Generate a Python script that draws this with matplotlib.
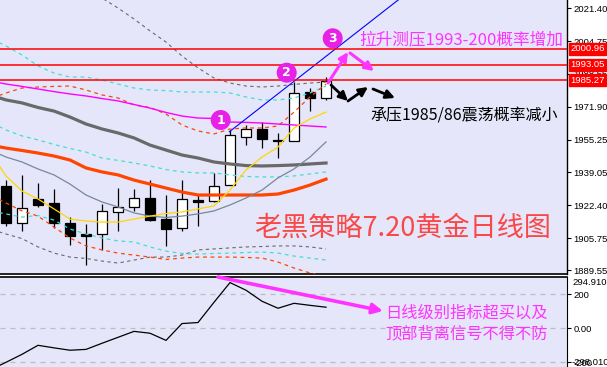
import numpy as np
import matplotlib
matplotlib.use("Agg")
import matplotlib.pyplot as plt
from matplotlib.patches import Rectangle, Circle, FancyArrowPatch
from matplotlib.transforms import IdentityTransform, blended_transform_factory

plt.rcParams['font.family'] = ['Noto Sans CJK SC', 'DejaVu Sans']

# ---------------- data ----------------
opens  = [1932.0, 1913.6, 1925.5, 1923.4, 1913.3, 1907.7, 1908.1, 1919.1, 1921.3, 1926.0,
          1915.4, 1910.7, 1924.9, 1924.6, 1932.5, 1956.8, 1960.5, 1954.9, 1954.7, 1979.3, 1976.5]
highs  = [1935.0, 1937.6, 1933.7, 1930.4, 1916.6, 1912.8, 1923.0, 1931.0, 1930.5, 1935.0,
          1927.5, 1935.0, 1927.5, 1938.4, 1960.2, 1962.7, 1964.4, 1958.5, 1984.5, 1981.5, 1987.0]
lows   = [1911.9, 1909.6, 1921.3, 1910.7, 1902.4, 1892.3, 1900.1, 1909.6, 1919.6, 1914.6,
          1902.0, 1909.4, 1911.9, 1924.1, 1932.3, 1952.6, 1950.9, 1946.0, 1954.7, 1969.7, 1975.3]
closes = [1913.6, 1920.8, 1922.7, 1913.2, 1907.0, 1907.0, 1919.5, 1921.3, 1925.8, 1914.9,
          1910.3, 1925.3, 1924.2, 1932.0, 1957.7, 1960.5, 1955.5, 1955.1, 1978.6, 1976.4, 1984.6]

# indicator values at bars -1 .. 20
ind_x = np.arange(-1, 21)
boll_up_slow = [2057.2, 2053.2, 2049.2, 2044.6, 2040.6, 2035.6, 2031.1, 2026.5, 2021.5, 2016.0, 2010.0,
                2004.4, 1997.4, 1991.4, 1986.3, 1983.8, 1982.3, 1981.8, 1982.3, 1983.1, 1983.8, 1984.3]
boll_dn_slow = [1910.4, 1907.9, 1905.6, 1901.4, 1898.3, 1896.3, 1895.6, 1894.3, 1893.3, 1894.8, 1896.3,
                1896.3, 1897.3, 1899.9, 1900.4, 1900.9, 1901.4, 1901.6, 1901.9, 1901.9, 1901.4, 1900.4]
cyan_up  = [2006.4, 2002.4, 1997.9, 1992.4, 1988.8, 1986.8, 1986.8, 1985.3, 1983.3, 1981.3, 1980.3,
            1980.0, 1979.3, 1979.3, 1979.3, 1978.8, 1976.8, 1975.3, 1975.3, 1976.3, 1978.8, 1982.3]
cyan_mid = [1964.2, 1960.2, 1957.2, 1955.2, 1952.9, 1950.9, 1949.1, 1946.1, 1944.9, 1943.6, 1942.1,
            1940.3, 1939.1, 1938.6, 1938.6, 1937.6, 1936.8, 1936.6, 1936.6, 1937.1, 1938.1, 1939.1]
cyan_dn  = [1919.5, 1918.0, 1916.4, 1917.2, 1914.9, 1910.4, 1907.9, 1905.9, 1904.4, 1903.9, 1901.4,
            1899.3, 1898.1, 1897.8, 1898.1, 1898.3, 1898.6, 1898.8, 1898.3, 1896.8, 1895.8, 1894.8]
orange_up = [1975.8, 1978.8, 1981.3, 1981.8, 1982.1, 1982.3, 1980.3, 1977.8, 1976.3, 1972.8, 1971.5,
             1968.2, 1962.7, 1959.7, 1958.2, 1960.7, 1961.2, 1961.2, 1962.2, 1969.2, 1976.8, 1983.3]
orange_dn = [1927.5, 1923.5, 1919.5, 1916.9, 1911.4, 1905.9, 1901.9, 1899.9, 1898.3, 1897.3, 1896.3,
             1895.1, 1895.8, 1896.3, 1896.3, 1896.3, 1896.1, 1895.8, 1893.8, 1890.8, 1888.3, 1886.3]
ma_magenta = [1984.8, 1983.3, 1982.1, 1980.8, 1979.5, 1978.3, 1977.3, 1976.0, 1974.8, 1973.0, 1971.2,
              1969.0, 1967.2, 1966.2, 1966.0, 1964.2, 1964.0, 1963.7, 1963.2, 1962.7, 1962.2, 1961.7]
ma_gray = [1977.8, 1975.3, 1973.8, 1971.5, 1969.7, 1966.7, 1963.2, 1960.7, 1958.7, 1956.2, 1952.6,
           1950.1, 1947.6, 1946.1, 1944.1, 1943.1, 1942.3, 1942.1, 1942.3, 1942.6, 1943.1, 1943.6]
ma_orange = [1952.6, 1951.1, 1949.9, 1948.6, 1947.1, 1945.1, 1941.1, 1939.1, 1937.6, 1935.0, 1933.0,
             1931.0, 1929.0, 1927.5, 1927.5, 1927.5, 1927.5, 1927.5, 1928.0, 1930.0, 1932.5, 1935.5]
ma_yellow = [1949.1, 1937.1, 1929.5, 1925.5, 1920.5, 1915.4, 1914.4, 1913.9, 1913.9, 1915.4, 1916.9,
             1918.2, 1919.0, 1920.5, 1922.0, 1930.0, 1940.1, 1946.6, 1951.6, 1961.2, 1965.7, 1969.2]
ma_slate = [1950.1, 1946.6, 1944.1, 1940.6, 1937.6, 1933.0, 1927.5, 1924.0, 1921.5, 1918.5, 1916.9,
            1916.2, 1916.9, 1918.0, 1919.5, 1922.5, 1926.0, 1930.0, 1936.1, 1940.6, 1946.6, 1954.2]
cci = [-245, -200, -153, -100, -115, -129, -124, -88, -53, -18, -29,
       -71, 28, 34, 153, 269, 224, 159, 118, 147, 135, 124]

levels = [2000.96, 1993.05, 1985.27]
price_ticks = [2021.40, 2004.75, 1988.55, 1971.90, 1955.25, 1939.05, 1922.40, 1905.75, 1889.55]
cci_ticks = [200, 0, -200]
cci_max_label = "294.9108"
cci_min_label = "-298.0101"
trend_anchor = (13.96, 1959.3)
trend_slope = 6.28

# ---------------- figure ----------------
W, H = 607, 367
fig = plt.figure(figsize=(W / 100, H / 100), dpi=100)
fig.patch.set_facecolor('white')
BG = '#e6e6fa'
TF = 'Liberation Sans'
TS = 6.8

ax1 = fig.add_axes([0, 93 / H, 567 / W, 274 / H])
ax1.set_facecolor(BG)
ax1.set_xlim(-0.375, 35.06)
ax1.set_ylim(1887.79, 2025.54)
for s in ['top', 'left']:
    ax1.spines[s].set_visible(False)
ax1.spines['right'].set_linewidth(1.0)
ax1.spines['bottom'].set_linewidth(1.2)
ax1.set_xticks([])
ax1.yaxis.tick_right()
ax1.set_yticks(price_ticks)
ax1.set_yticklabels([f"{v:.2f}" for v in price_ticks], fontfamily=TF, fontsize=TS)
ax1.tick_params(axis='y', length=3, width=0.8, pad=1.5, direction='out')

# candles
bw = 0.64
for i, (o, h, l, c) in enumerate(zip(opens, highs, lows, closes)):
    ax1.vlines(i, l, h, color='black', lw=0.9, zorder=2)
    fc = 'white' if c >= o else 'black'
    ax1.add_patch(Rectangle((i - bw / 2, min(o, c)), bw, max(abs(c - o), 0.05),
                            facecolor=fc, edgecolor='black', lw=0.9, zorder=3))

dash = (0, (3, 3))
ax1.plot(ind_x, boll_up_slow, color='#696969', lw=0.8, ls=dash, zorder=4)
ax1.plot(ind_x, boll_dn_slow, color='#696969', lw=0.8, ls=dash, zorder=4)
for arr in (cyan_up, cyan_mid, cyan_dn):
    ax1.plot(ind_x, arr, color='#40e0d0', lw=0.9, ls=dash, zorder=4)
for arr in (orange_up, orange_dn):
    ax1.plot(ind_x, arr, color='#ff4500', lw=0.9, ls=dash, zorder=4)
ax1.plot(ind_x, ma_gray, color='#696969', lw=2.3, zorder=4)
ax1.plot(ind_x, ma_orange, color='#ff4500', lw=2.3, zorder=4)
ax1.plot(ind_x, ma_magenta, color='#ff00ff', lw=1.0, zorder=4)
ax1.plot(ind_x, ma_slate, color='#778899', lw=0.9, zorder=4)
ax1.plot(ind_x, ma_yellow, color='#ffd700', lw=0.9, zorder=4)

# trend line
tx = np.array([trend_anchor[0], 27])
ax1.plot(tx, trend_anchor[1] + trend_slope * (tx - trend_anchor[0]), color='#0000ff', lw=0.8, zorder=5)

# resistance lines + labels
bt = blended_transform_factory(ax1.transAxes, ax1.transData)
for v in levels:
    ax1.axhline(v, color='red', lw=1.1, zorder=5)
    ax1.text(1.0 + 3 / 567, v, f"{v:.2f}", transform=bt, color='white', fontsize=TS,
             fontfamily=TF, va='center', ha='left', clip_on=False, zorder=10,
             bbox=dict(boxstyle='square,pad=0.15', fc='#ff0000', ec='#ff0000'))

# ---------------- lower panel ----------------
ax2 = fig.add_axes([0, 0, 567 / W, 90.5 / H])
ax2.set_facecolor(BG)
ax2.set_xlim(-0.375, 35.06)
ax2.set_ylim(-227.6, 304.7)
for s in ['left', 'bottom']:
    ax2.spines[s].set_visible(False)
ax2.spines['top'].set_linewidth(1.2)
ax2.set_xticks([])
ax2.yaxis.tick_right()
ax2.set_yticks(cci_ticks)
ax2.set_yticklabels(["200", "0.00", "-200"], fontfamily=TF, fontsize=TS)
ax2.tick_params(axis='y', length=3, width=0.8, pad=1.5, direction='out')
for v in cci_ticks:
    ax2.axhline(v, color='#bdbdbd', lw=0.9, ls=(0, (4, 4)), zorder=1)
ax2.plot(ind_x, cci, color='black', lw=0.9, zorder=3)
bt2 = blended_transform_factory(ax2.transAxes, ax2.transData)
ax2.text(1.0 + 5 / 567, 294.91, cci_max_label, transform=bt2, fontsize=TS, fontfamily=TF,
         va='top', ha='left', clip_on=False)
ax2.text(1.0 + 5 / 567, -200, cci_min_label, transform=bt2, fontsize=TS, fontfamily=TF,
         va='center', ha='left', clip_on=False)

# ---------------- annotations (figure pixels, origin top-left converted) ----------------
def P(x, y):
    return (x, H - y)

MAG = '#ff33ff'
for (cx, cy, label) in [(220.7, 120, '1'), (286.7, 72.7, '2'), (332.7, 38.3, '3')]:
    fig.add_artist(Circle(P(cx, cy), 10, transform=IdentityTransform(), facecolor='#e622e6',
                          edgecolor='none', zorder=20))
    fig.text(cx / W, (H - cy) / H, label, color='white', fontsize=9, fontweight='bold',
             fontfamily='DejaVu Sans', ha='center', va='center', zorder=21)

def arrow(p0, p1, color, lw, ms):
    fig.add_artist(FancyArrowPatch(P(*p0), P(*p1), transform=IdentityTransform(),
                                   arrowstyle='-|>', mutation_scale=ms, color=color, lw=lw,
                                   shrinkA=0, shrinkB=0, zorder=20))

arrow((328, 83), (348, 52), MAG, 2.2, 13)
arrow((350, 53), (374, 71), MAG, 2.2, 13)
arrow((331, 85), (348, 101), 'black', 2.0, 13)
arrow((348, 101), (368, 87), 'black', 2.0, 13)
arrow((373, 89), (395, 98), 'black', 2.0, 13)
arrow((218, 277), (383, 311), MAG, 2.6, 15)

fig.text(359 / W, (H - 40) / H, "拉升测压1993-200概率增加", color=MAG, fontsize=12,
         ha='left', va='center', zorder=22)
fig.text(370 / W, (H - 116) / H, "承压1985/86震荡概率减小", color='black', fontsize=11.5,
         ha='left', va='center', zorder=22)
fig.text(254 / W, (H - 228) / H, "老黑策略7.20黄金日线图", color='#f84848', fontsize=19.5,
         ha='left', va='center', zorder=22)
fig.text(385 / W, (H - 313) / H, "日线级别指标超买以及", color=MAG, fontsize=11.7,
         ha='left', va='center', zorder=22)
fig.text(385 / W, (H - 334) / H, "顶部背离信号不得不防", color=MAG, fontsize=11.7,
         ha='left', va='center', zorder=22)

fig.savefig('out.png', dpi=100)
